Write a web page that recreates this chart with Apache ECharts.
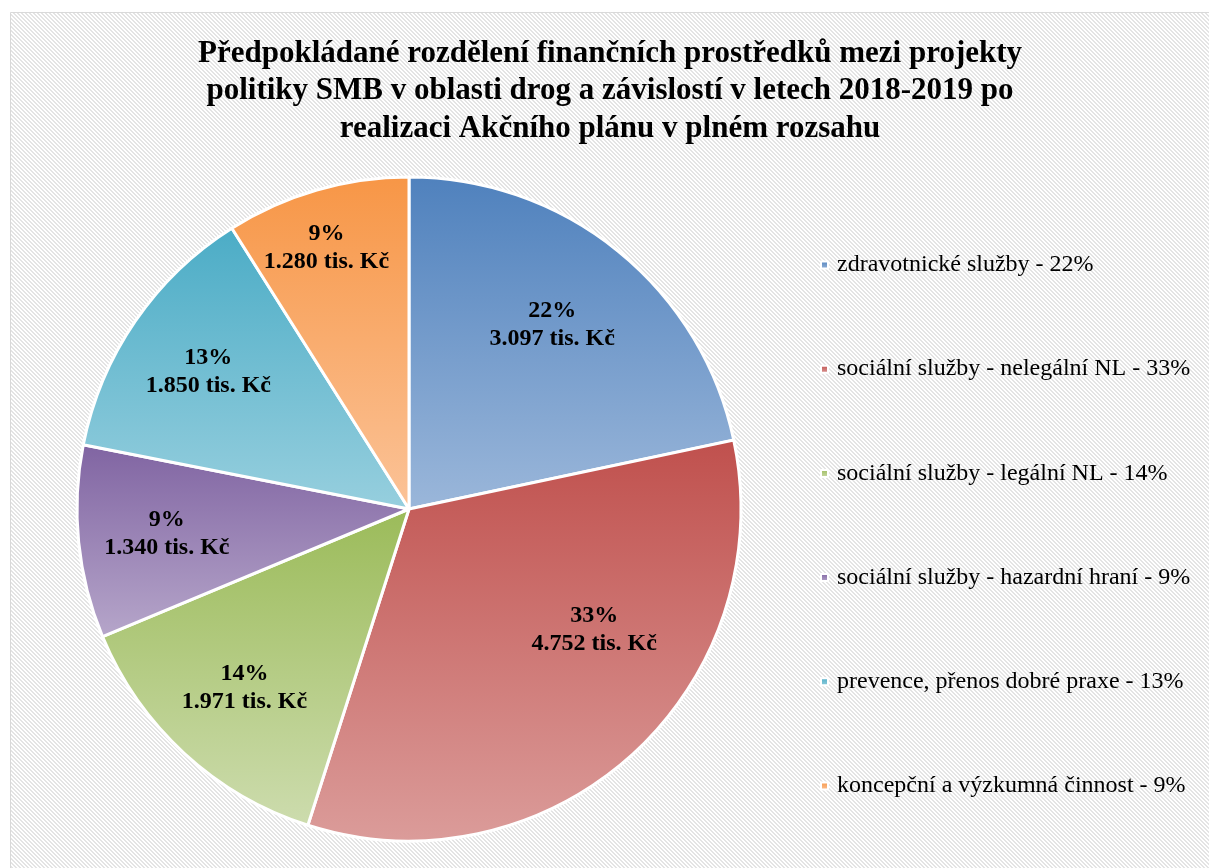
<!DOCTYPE html>
<html>
<head>
<meta charset="utf-8">
<script src="https://cdn.jsdelivr.net/npm/echarts@6.0.0/dist/echarts.min.js"></script>
<style>
  html, body { margin: 0; padding: 0; background: #fff; }
  #chart { width: 1209px; height: 868px; }
</style>
</head>
<body>
<div id="chart"></div>
<script>
const categories = [
    'zdravotnické služby',
    'sociální služby - nelegální NL',
    'sociální služby - legální NL',
    'sociální služby - hazardní hraní',
    'prevence, přenos dobré praxe',
    'koncepční a výzkumná činnost'
];
const values = [3097, 4752, 1971, 1340, 1850, 1280];   // tis. Kč

const baseColors = ['#4F81BD', '#C0504D', '#9BBB59', '#8064A2', '#4BACC6', '#F79646'];
const lightColors = ['#9BB7DA', '#DB9C9A', '#CDDCAE', '#B6A6CA', '#97CFDE', '#FBC398'];

const CENTER = [409, 509];
const RADIUS = 332;
const SERIF = '"Liberation Serif", "DejaVu Serif", serif';
// small per-slice label nudges (Excel "best fit" placement)
const labelNudge = [[-10, 5], [22, -60], [0, 0], [0, 0], [0, 0], [-15, -27]];

const total = values.reduce((a, b) => a + b, 0);
const pct = v => Math.round(v / total * 100);
const fmtThousands = v => String(v).replace(/\B(?=(\d{3})+(?!\d))/g, '.');

// diagonal stripe background, like the office chart style
function makeStripes() {
    const c = document.createElement('canvas');
    c.width = 4;
    c.height = 4;
    const ctx = c.getContext('2d');
    ctx.fillStyle = '#ffffff';
    ctx.fillRect(0, 0, 4, 4);
    ctx.fillStyle = '#e4e4e4';
    for (let i = 0; i < 4; i++) {
        ctx.fillRect(i, i, 1, 1);
        ctx.fillRect((i + 1) % 4, i, 1, 1);
    }
    return c;
}

const chart = echarts.init(document.getElementById('chart'));

const option = {
    backgroundColor: '#ffffff',
    animation: false,
    graphic: [{
        type: 'rect',
        z: -10,
        shape: { x: 10.5, y: 12.5, width: 1210, height: 870 },
        style: {
            fill: { image: makeStripes(), repeat: 'repeat' },
            stroke: '#d9d9d9',
            lineWidth: 1
        }
    }],
    title: {
        text: 'Předpokládané rozdělení finančních prostředků mezi projekty\npolitiky SMB v oblasti drog a závislostí v letech 2018-2019 po\nrealizaci Akčního plánu v plném rozsahu',
        left: 610,
        top: 35,
        padding: 0,
        textAlign: 'center',
        textStyle: {
            fontFamily: SERIF,
            fontWeight: 'bold',
            fontSize: 31,
            lineHeight: 37.5,
            color: '#000'
        }
    },
    legend: {
        orient: 'vertical',
        left: 820,
        top: 253,
        itemWidth: 7,
        itemHeight: 7,
        itemGap: 80.2,
        icon: 'rect',
        padding: 0,
        data: categories,
        formatter: name => {
            const i = categories.indexOf(name);
            return name + ' - ' + pct(values[i]) + '%';
        },
        textStyle: {
            fontFamily: SERIF,
            fontSize: 24,
            color: '#000',
            padding: [0, 0, 0, 4]
        }
    },
    series: [{
        type: 'pie',
        center: CENTER,
        radius: [0, RADIUS],
        startAngle: 90,
        clockwise: true,
        avoidLabelOverlap: false,
        itemStyle: {
            borderColor: '#ffffff',
            borderWidth: 3
        },
        label: {
            show: true,
            position: 'inside',
            fontFamily: SERIF,
            fontWeight: 'bold',
            fontSize: 24,
            lineHeight: 28,
            color: '#000',
            formatter: p => Math.round(p.percent) + '%\n' + fmtThousands(p.value) + ' tis. Kč'
        },
        labelLine: { show: false },
        // push the labels out from half radius to ~0.72 radius
        labelLayout: params => {
            const r = params.labelRect;
            const vx = r.x + r.width / 2 - CENTER[0];
            const vy = r.y + r.height / 2 - CENTER[1];
            const k = 0.44;
            const n = labelNudge[params.dataIndex];
            return { dx: vx * k + n[0], dy: vy * k + n[1] };
        },
        data: categories.map((name, i) => ({
            name: name,
            value: values[i],
            itemStyle: {
                color: new echarts.graphic.LinearGradient(0, 0, 0, 1, [
                    { offset: 0, color: baseColors[i] },
                    { offset: 1, color: lightColors[i] }
                ])
            }
        }))
    }]
};

chart.setOption(option);
</script>
</body>
</html>
